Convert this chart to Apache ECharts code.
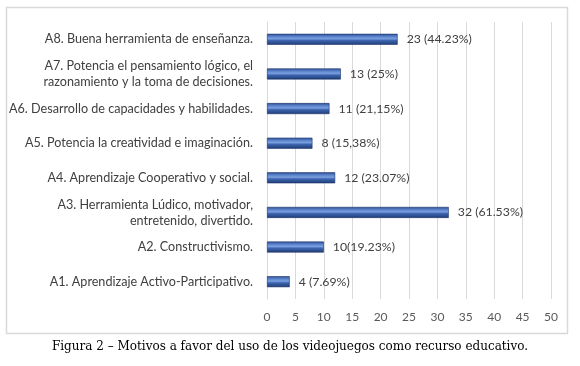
<!DOCTYPE html>
<html>
<head>
<meta charset="utf-8">
<script src="https://cdn.jsdelivr.net/npm/echarts@6/dist/echarts.min.js"></script>
<style>
html,body{margin:0;padding:0;background:#fff;}
#chart{width:580px;height:366px;}
</style>
</head>
<body>
<div id="chart"></div>
<script>
const categories = [
  "A1. Aprendizaje Activo-Participativo.",
  "A2. Constructivismo.",
  "A3. Herramienta Lúdico, motivador,\nentretenido, divertido.",
  "A4. Aprendizaje Cooperativo y social.",
  "A5. Potencia la creatividad e imaginación.",
  "A6. Desarrollo de capacidades y habilidades.",
  "A7. Potencia el pensamiento lógico, el\nrazonamiento y la toma de decisiones.",
  "A8. Buena herramienta de enseñanza."
];
const values = [4, 10, 32, 12, 8, 11, 13, 23];
const valueLabels = ["4 (7.69%)", "10(19.23%)", "32 (61.53%)", "12 (23.07%)", "8 (15,38%)", "11 (21,15%)", "13 (25%)", "23 (44.23%)"];
const xTicks = [0, 5, 10, 15, 20, 25, 30, 35, 40, 45, 50];
const caption = "Figura 2 – Motivos a favor del uso de los videojuegos como recurso educativo.";

const chart = echarts.init(document.getElementById('chart'));
const barColor = new echarts.graphic.LinearGradient(0, 0, 0, 1, [
  {offset: 0, color: '#2d4f94'},
  {offset: 0.25, color: '#5b83cc'},
  {offset: 0.45, color: '#7aa0e0'},
  {offset: 0.6, color: '#3e66b0'},
  {offset: 1, color: '#1e3a75'}
]);
chart.setOption({
  animation: false,
  backgroundColor: '#fff',
  textStyle: {fontFamily: 'Lato'},
  grid: {left: 267, top: 22, width: 284, height: 277, containLabel: false},
  xAxis: {
    type: 'value', min: xTicks[0], max: xTicks[xTicks.length - 1], interval: 5,
    axisLine: {show: false}, axisTick: {show: false},
    axisLabel: {color: '#595959', fontSize: 12, margin: 12, fontFamily: 'Lato'},
    splitLine: {lineStyle: {color: '#d9d9d9', width: 1}}
  },
  yAxis: {
    type: 'category', data: categories,
    axisLine: {show: true, lineStyle: {color: '#d9d9d9'}}, axisTick: {show: false},
    axisLabel: {color: '#404040', fontSize: 12.6, margin: 14, lineHeight: 16, align: 'right', fontFamily: 'Lato'}
  },
  series: [{
    type: 'bar', data: values, barWidth: 11,
    itemStyle: {color: barColor, borderColor: '#1c3468', borderWidth: 0.6},
    label: {
      show: true, position: 'right', distance: 9, color: '#404040', fontSize: 12.3, fontFamily: 'Lato',
      formatter: p => valueLabels[p.dataIndex]
    }
  }],
  graphic: [
    {type: 'rect', shape: {x: 6.5, y: 7.5, width: 561, height: 326}, style: {fill: null, stroke: '#d9d9d9', lineWidth: 1.5}, silent: true},
    {type: 'text', left: 'center', top: 341, style: {text: caption, fontFamily: 'DejaVu Serif', fontSize: 12, fill: '#000'}}
  ]
});
</script>
</body>
</html>
